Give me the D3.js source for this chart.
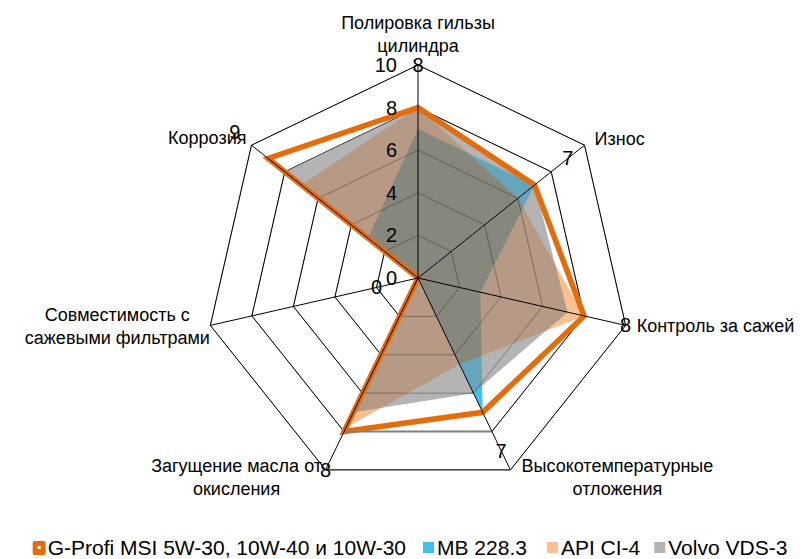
<!DOCTYPE html>
<html><head><meta charset="utf-8">
<script src="https://cdn.jsdelivr.net/npm/d3@7"></script>
<style>body{margin:0;background:#fff}svg{display:block}text{font-family:"Liberation Sans",Arial,sans-serif;fill:#000}</style>
</head><body><svg id="c" width="802" height="559"></svg>
<script>
const categories = [["Полировка гильзы","цилиндра"],["Износ"],["Контроль за сажей"],["Высокотемпературные","отложения"],["Загущение масла от","окисления"],["Совместимость с","сажевыми фильтрами"],["Коррозия"]];
const gprofi = [8,7,8,7,8,0,9];
const mb = [7,7,3,7,0,0,3];
const api = [8,6,8,4.5,7.8,0,7];
const volvo = [8,7,7.2,6,7,0,8];
const ticks = [0,2,4,6,8,10];
const rings = [2,4,6,8,10];
const seriesNames = ["G-Profi MSI 5W-30, 10W-40 и 10W-30","MB 228.3","API CI-4","Volvo VDS-3"];
const seriesColors = ["#E46C0A","#41BFEF","#FAC090","#B4B4B4"];

// layout / styles
const cx = 418, cy = 278, R = 213;
const n = categories.length, step = 2*Math.PI/n;
const r = d3.scaleLinear().domain([0,10]).range([0,R]);
const ang = i => i*step;
const pt = (i,v) => [cx + r(v)*Math.sin(ang(i)), cy - r(v)*Math.cos(ang(i))];
const radial = d3.lineRadial().angle((d,i)=>ang(i)).radius(d=>r(d)).curve(d3.curveLinearClosed);

const svg = d3.select("#c");
const defs = svg.append("defs");
const root = svg.append("g").attr("transform",`translate(${cx},${cy})`);

// grid rings (solid, under fills)
rings.forEach(v=>{
  root.append("path").attr("d",radial(d3.range(n).map(()=>v)))
    .attr("fill","none").attr("stroke","#000").attr("stroke-width",1);
});

// fills with explicit overlap colours (local coords, clip paths in same space)
const polys = {mb, api, volvo};
Object.entries(polys).forEach(([k,vals])=>{
  defs.append("clipPath").attr("id","clip-"+k).append("path").attr("d",radial(vals));
});
const fillG = root.append("g");
const fp = (parent,vals,col,clip) => {
  const p = parent.append("path").attr("d",radial(vals)).attr("fill",col);
  if(clip) p.attr("clip-path",`url(#clip-${clip})`);
  return p;
};
fp(fillG,mb,"#41BFEF"); fp(fillG,api,"#FAC090"); fp(fillG,volvo,"#B4B4B4");
fp(fillG,mb,"#9FA98F","api"); fp(fillG,mb,"#66A6BD","volvo"); fp(fillG,api,"#B69A86","volvo");
const tri = fillG.append("g").attr("clip-path","url(#clip-volvo)");
fp(tri,mb,"#87887D","api");

// rings visible through fills
rings.forEach(v=>{
  root.append("path").attr("d",radial(d3.range(n).map(()=>v)))
    .attr("fill","none").attr("stroke","#000").attr("stroke-opacity",0.3).attr("stroke-width",1);
});
// ring-8 bottom edge (grey)
svg.append("line").attr("x1",pt(3,8)[0]).attr("y1",pt(3,8)[1]).attr("x2",pt(4,8)[0]).attr("y2",pt(4,8)[1])
  .attr("stroke","#808080").attr("stroke-width",2);

// spokes
svg.append("g").selectAll("line").data(categories).join("line")
  .attr("x1",cx).attr("y1",cy)
  .attr("x2",(d,i)=>pt(i,10)[0]).attr("y2",(d,i)=>pt(i,10)[1])
  .attr("stroke","#000").attr("stroke-width",1);

// G-Profi line
root.append("path").attr("d",radial(gprofi))
  .attr("fill","none").attr("stroke","#E46C0A").attr("stroke-width",5.5).attr("stroke-linejoin","miter");

// tick labels
svg.append("g").selectAll("text").data(ticks).join("text")
  .attr("x",cx-21).attr("y",d=>cy-r(d)).attr("dy","0.35em").attr("text-anchor","end")
  .attr("font-size",20).text(d=>d);

// data labels (value + 2 along axis)
svg.append("g").selectAll("text").data(gprofi).join("text")
  .attr("x",(d,i)=>pt(i,d+2)[0]).attr("y",(d,i)=>pt(i,d+2)[1]).attr("dy","0.35em")
  .attr("text-anchor","middle").attr("font-size",20).text(d=>d);

// category labels
const catLayout = [
  {dx:0, dy:-36, anchor:"middle"},
  {dx:10, dy:0, anchor:"start"},
  {dx:11, dy:7, anchor:"start"},
  {dx:107, dy:2, anchor:"middle"},
  {dx:-89, dy:2, anchor:"middle"},
  {dx:-93, dy:-4, anchor:"middle"},
  {dx:-5, dy:-1, anchor:"end"}
];
categories.forEach((lines,i)=>{
  const [vx,vy] = pt(i,10);
  const L = catLayout[i];
  const t = svg.append("text").attr("font-size",18).attr("text-anchor",L.anchor);
  lines.forEach((s,j)=>{
    t.append("tspan").attr("x",vx+L.dx).attr("y",vy+L.dy+j*23).text(s);
  });
});

// legend
const lg = svg.append("g");
let x = 0;
const gaps = [16,19,13,0];
seriesNames.forEach((name,i)=>{
  const g = lg.append("g").attr("transform",`translate(${x},0)`);
  if(i===0){
    g.append("rect").attr("x",0).attr("y",-7).attr("width",13).attr("height",14).attr("rx",2).attr("fill",seriesColors[0]);
    g.append("rect").attr("x",5).attr("y",-2).attr("width",3).attr("height",3).attr("fill","#fff");
  } else {
    g.append("rect").attr("x",1).attr("y",-6).attr("width",11).attr("height",11).attr("fill",seriesColors[i]);
  }
  const t = g.append("text").attr("x",15).attr("y",0).attr("dy","0.35em").attr("font-size",21).text(name);
  const w = t.node().getComputedTextLength();
  x += 15 + w + gaps[i];
});
const total = x;
lg.attr("transform",`translate(${410 - total/2},548)`);
</script></body></html>
